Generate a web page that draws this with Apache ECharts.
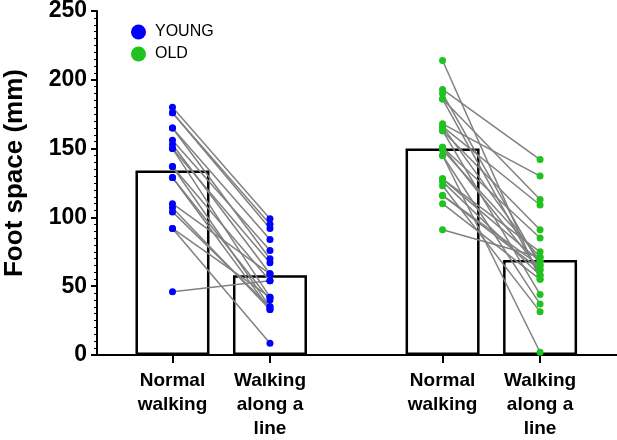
<!DOCTYPE html>
<html>
<head>
<meta charset="utf-8">
<script src="https://cdn.jsdelivr.net/npm/echarts@6/dist/echarts.min.js"></script>
<style>
  html, body { margin: 0; padding: 0; background: #fff; }
  #chart { width: 617px; height: 440px; }
</style>
</head>
<body>
<div id="chart"></div>
<script>
// categories along x
const categories = ['Normal\nwalking', 'Walking\nalong a\nline', 'Normal\nwalking', 'Walking\nalong a\nline'];
// bar heights (group means)
const barMeans = [134, 58, 150, 69];
// paired values, one entry per subject (mm)
const youngNormal = [180, 176, 176, 165, 165, 156, 153, 150, 150, 137, 137, 129, 129, 110, 107, 104, 92, 92, 46];
const youngLine   = [99, 95, 92, 84, 70, 76, 59, 67, 42, 54, 35, 40, 33, 59, 33, 35, 42, 8.5, 54];
const oldNormal = [214, 193, 190, 186, 186, 168, 166, 166, 163, 163, 151, 151, 149, 145, 145, 128, 126, 123, 116, 110, 91, 128, 116];
const oldLine   = [55, 142, 65, 113, 58, 130, 109, 68, 91, 44, 85, 62, 71, 2, 37, 68, 58, 31.5, 62, 55, 71, 75, 65];

// where each category sits on the x value axis (gap between the two groups)
const slot = [0, 1, 2.77, 3.77];
const FONT = "'Liberation Sans', Arial, sans-serif";

const chart = echarts.init(document.getElementById('chart'));

function pairs(a, b, i0, i1) {
  return a.map((v, i) => ({ coords: [[slot[i0], v], [slot[i1], b[i]]] }));
}

const option = {
  animation: false,
  grid: { left: 97, right: 0, top: 11, bottom: 85, outerBoundsMode: 'none', containLabel: false },
  legend: {
    orient: 'vertical',
    left: 131,
    top: 24,
    padding: 0,
    icon: 'circle',
    itemWidth: 15,
    itemHeight: 15,
    itemGap: 6,
    data: ['YOUNG', 'OLD'],
    textStyle: { fontFamily: FONT, fontSize: 16, color: '#000', padding: [0, 0, 0, 4] }
  },
  xAxis: {
    type: 'value',
    min: -0.774,
    max: 4.559,
    splitLine: { show: false },
    axisLine: { onZero: true, lineStyle: { color: '#000', width: 2 } },
    axisTick: { customValues: slot, length: 8, lineStyle: { color: '#000', width: 2 } },
    axisLabel: {
      customValues: slot,
      margin: 14,
      fontFamily: FONT,
      fontWeight: 'bold',
      fontSize: 19,
      lineHeight: 24,
      color: '#000',
      align: 'center',
      formatter: function (val) {
        let best = 0;
        slot.forEach((s, i) => { if (Math.abs(s - val) < Math.abs(slot[best] - val)) best = i; });
        return categories[best];
      }
    }
  },
  yAxis: {
    type: 'value',
    min: 0,
    max: 250,
    interval: 50,
    name: 'Foot space (mm)',
    nameLocation: 'middle',
    nameGap: 69,
    nameTextStyle: { fontFamily: FONT, fontWeight: 'bold', fontSize: 26, color: '#000', padding: [0, 0, 0, 20] },
    splitLine: { show: false },
    axisLine: { show: true, onZero: false, lineStyle: { color: '#000', width: 2 } },
    axisTick: { length: 6, lineStyle: { color: '#000', width: 2 } },
    minorTick: { show: true, splitNumber: 10, length: 3, lineStyle: { color: '#000', width: 1 } },
    axisLabel: { margin: 10, fontFamily: FONT, fontWeight: 'bold', fontSize: 23, color: '#000' }
  },
  series: [
    {
      type: 'bar',
      barWidth: 74,
      z: 1,
      itemStyle: { color: '#fff', borderColor: '#000', borderWidth: 2.5 },
      data: barMeans.map((v, i) => [slot[i], v])
    },
    {
      type: 'lines',
      coordinateSystem: 'cartesian2d',
      z: 2,
      silent: true,
      lineStyle: { color: '#808080', width: 1.5, opacity: 1 },
      data: pairs(youngNormal, youngLine, 0, 1).concat(pairs(oldNormal, oldLine, 2, 3))
    },
    {
      name: 'YOUNG',
      type: 'scatter',
      z: 3,
      symbolSize: 7,
      itemStyle: { color: '#0000ff', opacity: 1 },
      data: youngNormal.map(v => [slot[0], v]).concat(youngLine.map(v => [slot[1], v]))
    },
    {
      name: 'OLD',
      type: 'scatter',
      z: 3,
      symbolSize: 7,
      itemStyle: { color: '#1ec31e', opacity: 1 },
      data: oldNormal.map(v => [slot[2], v]).concat(oldLine.map(v => [slot[3], v]))
    }
  ]
};

chart.setOption(option);
</script>
</body>
</html>
